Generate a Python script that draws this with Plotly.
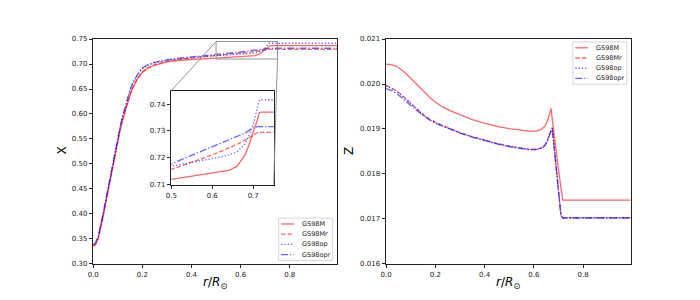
import plotly.graph_objects as go

W, H = 700, 300

# ---------------- data ----------------
names = ["GS98M", "GS98Mr", "GS98op", "GS98opr"]

r_X = [0, 0.01, 0.02, 0.03, 0.04, 0.05, 0.06, 0.07, 0.08, 0.09, 0.10, 0.11, 0.12, 0.13,
       0.14, 0.15, 0.16, 0.18, 0.20, 0.22, 0.25, 0.30, 0.35, 0.40, 0.45, 0.50, 0.55, 0.60,
       0.62, 0.64, 0.66, 0.68, 0.69, 0.70, 0.71, 0.715, 0.72, 0.80, 0.90, 0.993]
X_GS98M = [0.335, 0.339, 0.350, 0.370, 0.394, 0.420, 0.446, 0.472, 0.498, 0.523, 0.547, 0.569,
           0.589, 0.607, 0.623, 0.638, 0.651, 0.670, 0.683, 0.691, 0.6975, 0.7042, 0.7075, 0.7095,
           0.7108, 0.7120, 0.7132, 0.7143, 0.7147, 0.7153, 0.7168, 0.7210, 0.7250, 0.7292, 0.7340,
           0.7368, 0.7370, 0.7370, 0.7370, 0.7370]
X_GS98Mr = [0.336, 0.340, 0.351, 0.371, 0.395, 0.421, 0.447, 0.473, 0.499, 0.524, 0.548, 0.570,
            0.590, 0.608, 0.624, 0.639, 0.652, 0.671, 0.684, 0.692, 0.6990, 0.7060, 0.7095, 0.7120,
            0.7140, 0.7157, 0.7183, 0.7211, 0.7223, 0.7236, 0.7250, 0.7266, 0.7276, 0.7286, 0.7294,
            0.7295, 0.7295, 0.7295, 0.7295, 0.7295]
X_GS98op = [0.338, 0.342, 0.354, 0.375, 0.399, 0.425, 0.451, 0.477, 0.503, 0.528, 0.552, 0.575,
            0.596, 0.615, 0.632, 0.647, 0.660, 0.678, 0.691, 0.697, 0.7025, 0.7078, 0.7108, 0.7132,
            0.7152, 0.7169, 0.7183, 0.7196, 0.7203, 0.7211, 0.7222, 0.7252, 0.7285, 0.7325, 0.7385,
            0.7414, 0.7416, 0.7416, 0.7416, 0.7416]
X_GS98opr = [0.339, 0.343, 0.355, 0.376, 0.400, 0.426, 0.452, 0.478, 0.504, 0.529, 0.553, 0.576,
             0.597, 0.616, 0.633, 0.648, 0.661, 0.679, 0.692, 0.698, 0.7035, 0.7085, 0.7117, 0.7142,
             0.7162, 0.7178, 0.7210, 0.7241, 0.7254, 0.7266, 0.7278, 0.7292, 0.7302, 0.7311, 0.7316,
             0.7316, 0.7316, 0.7316, 0.7316, 0.7316]

r_Z = [0, 0.02, 0.04, 0.06, 0.08, 0.10, 0.12, 0.14, 0.16, 0.18, 0.20, 0.23, 0.26, 0.30, 0.35,
       0.40, 0.45, 0.50, 0.55, 0.58, 0.61, 0.63, 0.645, 0.655, 0.665, 0.67, 0.675, 0.68, 0.69,
       0.70, 0.71, 0.7175, 0.80, 0.90, 0.993]
Z_GS98M = [0.02044, 0.02043, 0.02040, 0.02033, 0.02024, 0.02013, 0.02001, 0.01989, 0.01978,
           0.01969, 0.01960, 0.01949, 0.01941, 0.01932, 0.01921, 0.01913, 0.01906, 0.01901,
           0.01897, 0.01895, 0.01895, 0.01899, 0.01906, 0.01918, 0.01935, 0.01946, 0.01922,
           0.01898, 0.01850, 0.01810, 0.01770, 0.01742, 0.01742, 0.01742, 0.01742]
Z_GS98Mr = [0.01997, 0.01992, 0.01986, 0.01977, 0.01967, 0.01956, 0.01946, 0.01936, 0.01928,
            0.01921, 0.01915, 0.01908, 0.01901, 0.01892, 0.01883, 0.01875, 0.01868, 0.01862,
            0.01857, 0.01855, 0.01855, 0.01858, 0.01864, 0.01874, 0.01890, 0.01899, 0.01903,
            0.01875, 0.01820, 0.01764, 0.01709, 0.01703, 0.01703, 0.01703, 0.01703]
Z_GS98op = [0.01996, 0.01991, 0.01985, 0.01976, 0.01966, 0.01955, 0.01945, 0.01935, 0.01927,
            0.01920, 0.01914, 0.01907, 0.01900, 0.01891, 0.01882, 0.01874, 0.01867, 0.01861,
            0.01856, 0.01854, 0.01854, 0.01857, 0.01863, 0.01873, 0.01889, 0.01898, 0.01902,
            0.01874, 0.01819, 0.01763, 0.01708, 0.01702, 0.01702, 0.01702, 0.01702]
Z_GS98opr = [0.01990, 0.01986, 0.01980, 0.01972, 0.01962, 0.01952, 0.01943, 0.01934, 0.01926,
             0.01919, 0.01913, 0.01906, 0.01899, 0.01891, 0.01882, 0.01874, 0.01867, 0.01861,
             0.01856, 0.01854, 0.01854, 0.01857, 0.01863, 0.01873, 0.01889, 0.01898, 0.01902,
             0.01874, 0.01819, 0.01763, 0.01708, 0.01702, 0.01702, 0.01702, 0.01702]

X_series = [X_GS98M, X_GS98Mr, X_GS98op, X_GS98opr]
Z_series = [Z_GS98M, Z_GS98Mr, Z_GS98op, Z_GS98opr]

x_tickvals = [0.0, 0.2, 0.4, 0.6, 0.8]
x_ticktext = ["0.0", "0.2", "0.4", "0.6", "0.8"]
X_tickvals = [0.30, 0.35, 0.40, 0.45, 0.50, 0.55, 0.60, 0.65, 0.70, 0.75]
X_ticktext = ["0.30", "0.35", "0.40", "0.45", "0.50", "0.55", "0.60", "0.65", "0.70", "0.75"]
Z_tickvals = [0.016, 0.017, 0.018, 0.019, 0.020, 0.021]
Z_ticktext = ["0.016", "0.017", "0.018", "0.019", "0.020", "0.021"]
ins_x_tickvals = [0.5, 0.6, 0.7]
ins_x_ticktext = ["0.5", "0.6", "0.7"]
ins_y_tickvals = [0.71, 0.72, 0.73, 0.74]
ins_y_ticktext = ["0.71", "0.72", "0.73", "0.74"]

# ---------------- style ----------------
colors = ["rgba(255,0,0,0.6)", "rgba(255,0,0,0.6)", "rgba(0,0,255,0.6)", "rgba(0,0,255,0.6)"]
dashes = ["solid", "4.5px,2px", "1.3px,2px", "7px,2px,1.3px,2px"]
LW = 1.3
FONT = "DejaVu Sans"
AX = "#222222"


def px(x):
    return x / W


def py(y):
    return 1 - y / H


L_dom_x = [px(88), px(334)]
R_dom_x = [px(383.3), px(630)]
dom_y = [py(267), py(36)]
I_dom_x = [px(166.7), px(270)]
I_dom_y = [py(185.7), py(89)]

x_range = [0, 0.993]
X_range = [0.30, 0.75]
Z_range = [0.016, 0.021]
I_xrange = [0.5, 0.75]
I_yrange = [0.71, 0.745]

fig = go.Figure()

for i, n in enumerate(names):
    line = dict(color=colors[i], width=LW, dash=dashes[i])
    fig.add_trace(go.Scatter(x=r_X, y=X_series[i], mode="lines", line=line, name=n,
                             xaxis="x", yaxis="y", showlegend=False))
    fig.add_trace(go.Scatter(x=r_Z, y=Z_series[i], mode="lines", line=line, name=n,
                             xaxis="x2", yaxis="y2", showlegend=False))
    fig.add_trace(go.Scatter(x=r_X, y=X_series[i], mode="lines", line=line, name=n,
                             xaxis="x3", yaxis="y3", showlegend=False))


def axis(domain, rng, tv, tt, anchor):
    return dict(domain=domain, range=rng, tickvals=tv, ticktext=tt, anchor=anchor,
                showline=True, mirror=True, linecolor=AX, linewidth=1, ticks="outside",
                ticklen=3.5, tickwidth=0.8, tickcolor=AX, showgrid=False, zeroline=False,
                tickfont=dict(family=FONT, size=7, color=AX), fixedrange=True)


shapes = []
annotations = []

# zoom rectangle on main axes and connectors to inset
shapes.append(dict(type="rect", xref="x", yref="y", x0=I_xrange[0], x1=I_xrange[1],
                   y0=I_yrange[0], y1=I_yrange[1], line=dict(color="#888888", width=0.9),
                   fillcolor="rgba(0,0,0,0)", layer="above"))


def data_to_paper(xv, yv, dx, dy, xr, yr):
    return (dx[0] + (xv - xr[0]) / (xr[1] - xr[0]) * (dx[1] - dx[0]),
            dy[0] + (yv - yr[0]) / (yr[1] - yr[0]) * (dy[1] - dy[0]))


for cx, cy in [(I_xrange[0], I_yrange[1]), (I_xrange[1], I_yrange[0])]:
    a = data_to_paper(cx, cy, L_dom_x, dom_y, x_range, X_range)
    b = data_to_paper(cx, cy, I_dom_x, I_dom_y, I_xrange, I_yrange)
    shapes.append(dict(type="line", xref="paper", yref="paper", x0=a[0], y0=a[1], x1=b[0], y1=b[1],
                       line=dict(color="#888888", width=0.9), layer="above"))


# legends (manual, matplotlib-like compact)
def legend(box_left, box_top):
    box_w, box_h = 54.5, 43.5
    shapes.append(dict(type="rect", xref="paper", yref="paper", x0=px(box_left), x1=px(box_left + box_w),
                       y0=py(box_top + box_h), y1=py(box_top), line=dict(color="#cccccc", width=0.8),
                       fillcolor="rgba(255,255,255,0.85)", layer="above"))
    for i, n in enumerate(names):
        yc = box_top + 6.0 + 10.5 * i
        shapes.append(dict(type="line", xref="paper", yref="paper", x0=px(box_left + 2.5),
                           x1=px(box_left + 15.5), y0=py(yc), y1=py(yc),
                           line=dict(color=colors[i], width=LW, dash=dashes[i]), layer="above"))
        annotations.append(dict(text=n, xref="paper", yref="paper", x=px(box_left + 21.5), y=py(yc),
                                xanchor="left", yanchor="middle", showarrow=False,
                                font=dict(family=FONT, size=6.5, color=AX)))


legend(275, 220)
legend(571.7, 39)

# axis titles
for xp, yp, t, ang in [(56, 151, "X", -90), (346, 151, "Z", -90)]:
    annotations.append(dict(text=t, xref="paper", yref="paper", x=px(xp), y=py(yp), textangle=ang,
                            showarrow=False, xanchor="center", yanchor="middle",
                            font=dict(family=FONT, size=12, color="#000")))
for xp in [(88 + 334) / 2, (383.3 + 630) / 2]:
    annotations.append(dict(text="<i>r</i>/<i>R</i><sub>⊙</sub>", xref="paper", yref="paper",
                            x=px(xp), y=py(287), showarrow=False, xanchor="center", yanchor="middle",
                            font=dict(family=FONT, size=12, color="#000")))

fig.update_layout(
    width=W, height=H, margin=dict(l=0, r=0, t=0, b=0),
    paper_bgcolor="white", plot_bgcolor="white", showlegend=False,
    xaxis=axis(L_dom_x, x_range, x_tickvals, x_ticktext, "y"),
    yaxis=axis(dom_y, X_range, X_tickvals, X_ticktext, "x"),
    xaxis2=axis(R_dom_x, x_range, x_tickvals, x_ticktext, "y2"),
    yaxis2=axis(dom_y, Z_range, Z_tickvals, Z_ticktext, "x2"),
    xaxis3=axis(I_dom_x, I_xrange, ins_x_tickvals, ins_x_ticktext, "y3"),
    yaxis3=axis(I_dom_y, I_yrange, ins_y_tickvals, ins_y_ticktext, "x3"),
    shapes=shapes, annotations=annotations,
)

fig.write_html("out.html", config={"displayModeBar": False},
               post_script="document.body.style.margin='0';document.body.style.padding='0';")
